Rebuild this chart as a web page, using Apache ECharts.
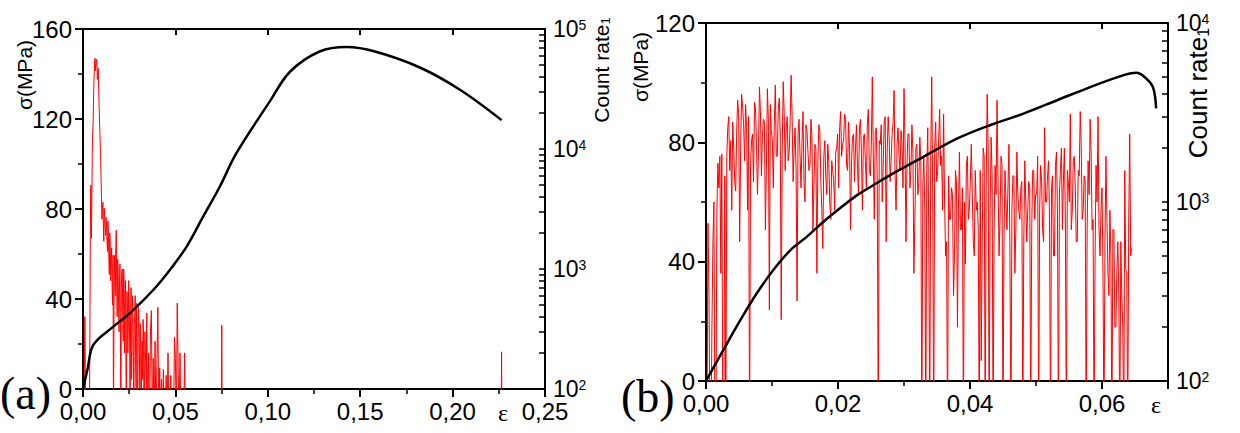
<!DOCTYPE html>
<html>
<head>
<meta charset="utf-8">
<script src="https://cdn.jsdelivr.net/npm/echarts@6/dist/echarts.min.js"></script>
<style>html,body{margin:0;padding:0;background:#fff}#c{width:1240px;height:433px}</style>
</head>
<body>
<div id="c"></div>
<script>
// ---------- DATA ----------
// Panel (a): stress-strain curve (strain, MPa)
const stressA = [[0,0],[0.0025,9],[0.0056,19.6],[0.0164,27.7],[0.0254,33.7],[0.038,44],[0.047,52.9],[0.056,63.2],[0.065,76.6],[0.074,89.9],[0.083,104.8],[0.101,127.7],[0.112,141],[0.128,150],[0.1427,152],[0.158,150],[0.182,143],[0.204,133],[0.2265,119.5]];
// Panel (a): acoustic emission count rate (strain, counts); 50 = below axis (no count)
const countA = [[0,50],[0.0005,50],[0.001,400],[0.0015,50],[0.002,50],[0.0025,50],[0.003,50],[0.0035,50],[0.004,2600],[0.0045,1800],[0.005,9000],[0.0055,17000],[0.006,40000],[0.0065,57000],[0.007,50000],[0.0075,55000],[0.008,42000],[0.0085,30000],[0.009,16000],[0.0095,9000],[0.01,4000],[0.0105,3000],[0.011,2400],[0.0115,3200],[0.012,2200],[0.0125,2700],[0.013,1700],[0.0135,2500],[0.014,1200],[0.0145,2000],[0.015,800],[0.0155,1500],[0.016,500],[0.0165,50],[0.017,1300],[0.0175,600],[0.018,2100],[0.0185,400],[0.019,1000],[0.0195,300],[0.02,1100],[0.0205,50],[0.021,950],[0.0215,400],[0.022,1000],[0.0225,200],[0.023,800],[0.0235,50],[0.024,600],[0.0245,300],[0.025,500],[0.0255,50],[0.026,700],[0.0265,200],[0.027,450],[0.0275,50],[0.028,400],[0.0285,150],[0.029,520],[0.0295,50],[0.03,480],[0.0305,200],[0.031,350],[0.0315,50],[0.032,250],[0.0325,380],[0.033,50],[0.0335,300],[0.034,160],[0.0345,430],[0.035,50],[0.0355,200],[0.036,50],[0.0365,300],[0.037,450],[0.0375,50],[0.038,180],[0.0385,50],[0.039,250],[0.0395,50],[0.04,160],[0.0405,480],[0.041,50],[0.0415,150],[0.042,50],[0.0425,120],[0.043,50],[0.0435,145],[0.044,50],[0.0445,50],[0.045,130],[0.0455,50],[0.046,200],[0.0465,50],[0.047,50],[0.0475,130],[0.048,50],[0.0485,50],[0.049,50],[0.0495,270],[0.05,180],[0.0505,50],[0.051,520],[0.0515,150],[0.052,50],[0.0525,200],[0.053,50],[0.0535,50],[0.054,50],[0.0545,50],[0.055,200],[0.0555,50],[0.0749,50],[0.0751,340],[0.0753,50],[0.2263,50],[0.2265,204],[0.2267,50]];
// Panel (a): additional in-between samples of the dense burst
const countAmid = [[0.00425,5000],[0.00475,3000],[0.00525,14000],[0.00575,30000],[0.00625,50000],[0.00675,45000],[0.00725,56000],[0.00775,38000],[0.00825,47000],[0.00875,22000],[0.00925,12000],[0.00975,6000],[0.01025,2600],[0.01075,3600],[0.01125,1700],[0.01175,2600],[0.01225,1900],[0.01275,2300],[0.01325,1400],[0.01375,1900],[0.01425,900],[0.01475,1600],[0.01525,1100],[0.01575,700],[0.01625,1300],[0.01675,400],[0.01725,900],[0.01775,1500],[0.01825,700],[0.01875,1200],[0.01925,500],[0.01975,800],[0.02025,300],[0.02075,700],[0.02125,1000],[0.02175,250],[0.02225,800],[0.02275,500],[0.02325,150],[0.02375,650],[0.02425,200],[0.02475,800],[0.02525,250],[0.02575,400],[0.02625,120],[0.02675,600],[0.02725,200],[0.02775,350],[0.02825,600],[0.02875,100],[0.02925,300],[0.02975,150],[0.03025,400],[0.03075,100],[0.03125,250],[0.03175,200],[0.03225,120],[0.03275,300],[0.03325,80],[0.03375,200],[0.03425,100]];
// Panel (b): stress-strain curve
const stressB = [[0,0],[0.00263,10.4],[0.0052,20.4],[0.0077,29.4],[0.0102,37.2],[0.0128,43.9],[0.0153,48.4],[0.0178,53.4],[0.0203,57.9],[0.0229,62.3],[0.0254,65.7],[0.0279,69.0],[0.033,75.2],[0.0381,81.3],[0.0431,85.8],[0.0482,89.7],[0.0533,94.2],[0.0583,98.6],[0.0634,102.6],[0.0652,103.3],[0.0664,102],[0.0677,98.6],[0.0682,91.4]];
// Panel (b): acoustic emission count rate
const countB = [[0,50],[0.0003,760],[0.0006,50],[0.0009,200],[0.0012,1000],[0.0015,50],[0.0018,1650],[0.0021,1800],[0.0024,1850],[0.0027,50],[0.003,50],[0.0033,2600],[0.0036,1500],[0.0039,900],[0.0042,2000],[0.0045,1150],[0.0048,3700],[0.0051,600],[0.0054,4000],[0.0057,2700],[0.006,3500],[0.0063,900],[0.0066,50],[0.0069,2200],[0.0072,1300],[0.0075,3300],[0.0078,1100],[0.0081,4400],[0.0084,1400],[0.0087,2900],[0.009,700],[0.0093,4300],[0.0096,250],[0.0099,2500],[0.0102,1200],[0.0105,4500],[0.0108,1800],[0.0111,3800],[0.0114,220],[0.0117,4700],[0.012,1500],[0.0123,3000],[0.0126,1900],[0.0129,5100],[0.0132,1300],[0.0135,2600],[0.0138,280],[0.0141,2900],[0.0144,1200],[0.0147,3200],[0.015,1000],[0.0153,2500],[0.0156,1500],[0.0159,2900],[0.0162,700],[0.0165,2100],[0.0168,400],[0.0171,2700],[0.0174,1300],[0.0177,550],[0.018,2200],[0.0183,1100],[0.0186,1700],[0.0189,800],[0.0192,1500],[0.0195,900],[0.0198,2000],[0.0201,1200],[0.0204,3200],[0.0207,2100],[0.021,3100],[0.0213,1600],[0.0216,2800],[0.0219,700],[0.0222,2300],[0.0225,1300],[0.0228,2700],[0.0231,1100],[0.0234,2900],[0.0237,900],[0.024,2400],[0.0243,1200],[0.0246,3300],[0.0249,1400],[0.0252,5000],[0.0255,800],[0.0258,2600],[0.0261,50],[0.0264,2100],[0.0267,1000],[0.027,2800],[0.0273,600],[0.0276,3000],[0.0279,1300],[0.0282,2400],[0.0285,4200],[0.0288,900],[0.0291,2600],[0.0294,1500],[0.0297,2100],[0.03,4300],[0.0303,600],[0.0306,2400],[0.0309,1200],[0.0312,2700],[0.0315,400],[0.0318,2000],[0.0321,1100],[0.0324,2300],[0.0327,50],[0.033,1800],[0.0333,50],[0.0336,2600],[0.0339,50],[0.0342,5000],[0.0345,50],[0.0348,2800],[0.0351,1500],[0.0354,3300],[0.0357,1800],[0.036,3100],[0.0363,500],[0.0366,50],[0.0369,800],[0.0372,1200],[0.0375,300],[0.0378,1500],[0.0381,200],[0.0384,1900],[0.0387,700],[0.039,50],[0.0393,450],[0.0396,1800],[0.0399,900],[0.0402,2100],[0.0405,600],[0.0408,1500],[0.0411,1000],[0.0414,50],[0.0417,130],[0.042,2000],[0.0423,50],[0.0426,4000],[0.0429,50],[0.0432,2300],[0.0435,50],[0.0438,1600],[0.0441,3700],[0.0444,500],[0.0447,1800],[0.045,50],[0.0453,1500],[0.0456,700],[0.0459,2100],[0.0462,50],[0.0465,1400],[0.0468,400],[0.0471,1900],[0.0474,900],[0.0477,1200],[0.048,50],[0.0483,1700],[0.0486,600],[0.0489,1300],[0.0492,50],[0.0495,1500],[0.0498,800],[0.0501,1100],[0.0504,50],[0.0507,1600],[0.051,700],[0.0513,2600],[0.0516,1000],[0.0519,1700],[0.0522,50],[0.0525,1400],[0.0528,500],[0.0531,1900],[0.0534,50],[0.0537,1500],[0.054,700],[0.0543,2000],[0.0546,50],[0.0549,1300],[0.0552,3100],[0.0555,900],[0.0558,1800],[0.0561,600],[0.0564,1500],[0.0567,3200],[0.057,800],[0.0573,1400],[0.0576,50],[0.0579,1700],[0.0582,2900],[0.0585,700],[0.0588,50],[0.0591,1600],[0.0594,3000],[0.0597,500],[0.06,1200],[0.0603,50],[0.0606,1800],[0.0609,400],[0.0612,900],[0.0615,50],[0.0618,700],[0.0621,200],[0.0624,600],[0.0627,50],[0.063,300],[0.0633,50],[0.0636,420],[0.0639,50],[0.0642,2400],[0.0645,550]];
// Panel (b): additional in-between samples
const countBmid = [[0.00015,50],[0.00045,300],[0.00075,50],[0.00105,600],[0.00135,50],[0.00165,900],[0.00195,1200],[0.00225,400],[0.00255,50],[0.00285,1400],[0.00315,1800],[0.00345,3000],[0.00375,2200],[0.00405,2800],[0.00435,1300],[0.00465,2500],[0.00495,3100],[0.00525,2000],[0.00555,3400],[0.00585,1700],[0.00615,2600],[0.00645,3000],[0.00675,1600],[0.00705,2400],[0.00735,3600],[0.00765,2100],[0.00795,1900],[0.00825,3200],[0.00855,2300],[0.00885,2800],[0.00915,1500],[0.00945,2900],[0.00975,3500],[0.01005,2200],[0.01035,2700],[0.01065,1800],[0.01095,3300],[0.01125,2400],[0.01155,2000],[0.01185,3100],[0.01215,2600],[0.01245,1700],[0.01275,2800],[0.01305,3000],[0.01335,2000],[0.01365,1500],[0.01395,2400],[0.01425,1800],[0.01455,2200],[0.01485,1300],[0.01515,2700],[0.01545,1900],[0.01575,1600],[0.01605,2300],[0.01635,1200],[0.01665,2000],[0.01695,1700],[0.01725,2500],[0.01755,900],[0.01785,1800],[0.01815,1400],[0.01845,2100],[0.01875,1000],[0.01905,1700],[0.01935,1300],[0.01965,1900],[0.01995,2400],[0.02025,2600],[0.02055,1800],[0.02085,2200],[0.02115,2900],[0.02145,1500],[0.02175,2000],[0.02205,1700],[0.02235,2400],[0.02265,2000],[0.02295,1600],[0.02325,2600],[0.02355,1900],[0.02385,2300],[0.02415,1700],[0.02445,2800],[0.02475,1500],[0.02505,2100],[0.02535,1800],[0.02565,2500],[0.02595,1300],[0.02625,2200],[0.02655,2700],[0.02685,1600],[0.02715,3000],[0.02745,1900],[0.02775,2300],[0.02805,1700],[0.02835,2800],[0.02865,1400],[0.02895,2100],[0.02925,1800],[0.02955,2500],[0.02985,1200],[0.03015,2200],[0.03045,1600],[0.03075,2400],[0.03105,1500],[0.03135,1900],[0.03165,800],[0.03195,2100],[0.03225,1300],[0.03255,1700],[0.03285,1200],[0.03315,900],[0.03345,1500],[0.03375,700],[0.03405,1800],[0.03435,1100],[0.03465,2000],[0.03495,1300],[0.03525,2200],[0.03555,1600],[0.03585,900],[0.03615,1000],[0.03645,600],[0.03675,1400],[0.03705,800],[0.03735,1100],[0.03765,500],[0.03795,1300],[0.03825,900],[0.03855,700],[0.03885,1200],[0.03915,1000],[0.03945,1600],[0.03975,800],[0.04005,1300],[0.04035,1100],[0.04065,500],[0.04095,900],[0.04125,700],[0.04155,1500],[0.04185,600],[0.04215,1800],[0.04245,1200],[0.04275,2000],[0.04305,900],[0.04335,1400],[0.04365,700],[0.04395,1100],[0.04425,1300],[0.04455,800],[0.04485,1600],[0.04515,600],[0.04545,1000],[0.04575,1200],[0.04605,500],[0.04635,900],[0.04665,1400],[0.04695,700],[0.04725,1100],[0.04755,800],[0.04785,1300],[0.04815,600],[0.04845,1000],[0.04875,900],[0.04905,1200],[0.04935,700],[0.04965,1500],[0.04995,1100],[0.05025,1800],[0.05055,900],[0.05085,1300],[0.05115,600],[0.05145,1000],[0.05175,1400],[0.05205,800],[0.05235,1200],[0.05265,500],[0.05295,1600],[0.05325,900],[0.05355,1100],[0.05385,2000],[0.05415,1300],[0.05445,800],[0.05475,1500],[0.05505,1000],[0.05535,700],[0.05565,1700],[0.05595,1200],[0.05625,600],[0.05655,1400],[0.05685,2100],[0.05715,900],[0.05745,1300],[0.05775,700],[0.05805,1100],[0.05835,1900],[0.05865,800],[0.05895,500],[0.05925,1000],[0.05955,700],[0.05985,900],[0.06015,400],[0.06045,600],[0.06075,800],[0.06105,300],[0.06135,500],[0.06165,700],[0.06195,200],[0.06225,400],[0.06255,300],[0.06285,600],[0.06315,200],[0.06345,1500],[0.06375,400],[0.06405,800],[0.06435,500]];
// Tick values of the logarithmic axes (decades and 2..9 subdivisions)
const logTicksA = [100,200,300,400,500,600,700,800,900,1000,2000,3000,4000,5000,6000,7000,8000,9000,10000,20000,30000,40000,50000,60000,70000,80000,90000,100000];
const logTicksB = [100,200,300,400,500,600,700,800,900,1000,2000,3000,4000,5000,6000,7000,8000,9000,10000];

const byStrain = (a, b) => a[0] - b[0];
const seriesCountA = countA.concat(countAmid).sort(byStrain);
const seriesCountB = countB.concat(countBmid).sort(byStrain);

// ---------- CHART ----------
const SANS = '"Liberation Sans", Arial, sans-serif';
const SERIF = '"Liberation Serif", "Times New Roman", serif';
const ls = (w) => ({color:'#000', width:w});
const fmtComma = v => (Math.abs(v - 0.07) < 1e-9) ? '' : v.toFixed(2).replace('.', ',');
const fmtPow = v => '{b|10}{s|' + Math.round(Math.log10(v)) + '}';
const powRich = () => ({b:{fontSize:23, fontFamily:SANS, color:'#000'}, s:{fontSize:14, fontFamily:SANS, color:'#000', verticalAlign:'top'}});

function xMain(grid, max, interval) {
  return {gridIndex:grid, type:'value', min:0, max:max, interval:interval, position:'bottom',
    axisLine:{show:true, onZero:false, lineStyle:ls(2)},
    axisTick:{show:true, length:8, lineStyle:ls(2)},
    minorTick:{show:true, splitNumber:2, length:5, lineStyle:ls(1.5)},
    axisLabel:{formatter:fmtComma, color:'#000', fontSize:24, margin:10},
    splitLine:{show:false}};
}
function xTop(grid, max, interval) {
  return {gridIndex:grid, type:'value', min:0, max:max, interval:interval, position:'top',
    axisLine:{show:true, onZero:false, lineStyle:ls(2)},
    axisTick:{show:true, inside:true, length:6, lineStyle:ls(2)},
    axisLabel:{show:false}, splitLine:{show:false}};
}
function yLeft(grid, max, gap, shift) {
  return {gridIndex:grid, type:'value', min:0, max:max, interval:40, position:'left',
    name:'σ(MPa)', nameLocation:'middle', nameRotate:90, nameGap:gap, nameMoveOverlap:false,
    nameTextStyle:{fontSize:21, fontFamily:SANS, color:'#000', padding:[0,0,0,shift]},
    axisLine:{show:true, onZero:false, lineStyle:ls(2)},
    axisTick:{show:true, length:8, lineStyle:ls(2)},
    minorTick:{show:true, splitNumber:2, length:5, lineStyle:ls(1.5)},
    axisLabel:{color:'#000', fontSize:24, margin:11},
    splitLine:{show:false}};
}
function yLog(grid, max, ticks, gap, shift, fs) {
  return {gridIndex:grid, type:'log', logBase:10, min:100, max:max, position:'right',
    name:'Count rate{s|1}', nameLocation:'middle', nameRotate:90, nameGap:gap, nameMoveOverlap:false,
    nameTextStyle:{fontSize:fs, fontFamily:SANS, color:'#000', padding:[0,0,0,shift],
      rich:{s:{fontSize:Math.round(fs*0.6), fontFamily:SANS, color:'#000', verticalAlign:'bottom'}}},
    axisLine:{show:true, onZero:false, lineStyle:ls(2)},
    axisTick:{show:true, inside:true, length:6, customValues:ticks, lineStyle:ls(1.5)},
    axisLabel:{formatter:fmtPow, rich:powRich(), margin:8},
    splitLine:{show:false}};
}
const titleStyle = (size) => ({fontFamily:SERIF, fontSize:size, fontWeight:'normal', color:'#000'});

const option = {
  animation:false,
  title:[
    {text:'(a)', left:0, top:370, padding:0, textStyle:titleStyle(46)},
    {text:'(b)', left:621, top:373, padding:0, textStyle:titleStyle(46)},
    {text:'ε', left:498, top:401, padding:0, textStyle:titleStyle(24)},
    {text:'ε', left:1151, top:393, padding:0, textStyle:titleStyle(24)}
  ],
  grid:[
    {left:83, top:29, width:462, height:360, show:true, borderColor:'#000', borderWidth:2},
    {left:706, top:23, width:462, height:358, show:true, borderColor:'#000', borderWidth:2}
  ],
  xAxis:[
    xMain(0, 0.25, 0.05),
    xTop(0, 0.25, 0.05),
    xMain(1, 0.07, 0.02),
    xTop(1, 0.07, 0.02)
  ],
  yAxis:[
    yLeft(0, 160, 48, 268),
    yLog(0, 100000, logTicksA, 46, 278, 21),
    yLeft(1, 120, 55, 270),
    yLog(1, 10000, logTicksB, 17, 218, 26)
  ],
  series:[
    {type:'line', name:'count rate a', xAxisIndex:0, yAxisIndex:1, data:seriesCountA, showSymbol:false,
     lineStyle:{color:'#f00', width:1}},
    {type:'line', name:'stress a', xAxisIndex:0, yAxisIndex:0, data:stressA, showSymbol:false, smooth:0.35,
     lineStyle:{color:'#000', width:2.5}},
    {type:'line', name:'count rate b', xAxisIndex:2, yAxisIndex:3, data:seriesCountB, showSymbol:false,
     lineStyle:{color:'#f00', width:1}},
    {type:'line', name:'stress b', xAxisIndex:2, yAxisIndex:2, data:stressB, showSymbol:false, smooth:0.35,
     lineStyle:{color:'#000', width:2.5}}
  ]
};
const chart = echarts.init(document.getElementById('c'), null, {renderer:'svg'});
chart.setOption(option);
</script>
</body>
</html>
